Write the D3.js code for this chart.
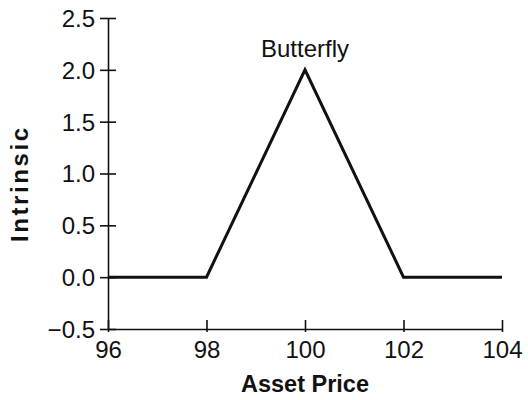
<!DOCTYPE html>
<html><head><meta charset="utf-8">
<script src="https://cdn.jsdelivr.net/npm/d3@7"></script>
<style>body{margin:0;background:#fff}svg{display:block}text{font-family:"Liberation Sans",Arial,sans-serif;fill:#111}</style>
</head><body>
<script>
const assetPrices = [96, 98, 100, 102, 104];
const intrinsicValues = [0, 0, 2, 0, 0];
const xTicks = [96, 98, 100, 102, 104];
const yTicks = [-0.5, 0.0, 0.5, 1.0, 1.5, 2.0, 2.5];
const seriesLabel = "Butterfly";
const xTitle = "Asset Price";
const yTitle = "Intrinsic";

const W = 528, H = 400;
const svg = d3.select("body").append("svg").attr("width", W).attr("height", H);
const x = d3.scaleLinear().domain([96, 104]).range([108, 502]);
const y = d3.scaleLinear().domain([-0.5, 2.5]).range([329, 18]);

// y axis
const yAxis = svg.append("g").attr("transform", `translate(${x(96)},0)`)
  .call(d3.axisLeft(y).tickValues(yTicks).tickFormat(d => d < 0 ? "\u2212" + Math.abs(d).toFixed(1) : d.toFixed(1)).tickSize(8).tickPadding(5).tickSizeOuter(0));
yAxis.select(".domain").attr("stroke", "#111").attr("stroke-width", 1.6);
yAxis.selectAll(".tick line").attr("x2", 8).attr("x1", -8).attr("stroke", "#111").attr("stroke-width", 1.6);
yAxis.selectAll(".tick text").attr("font-size", 24).attr("fill", "#111").attr("x", -13).attr("dy", "0.35em");

// x axis
const xAxis = svg.append("g").attr("transform", `translate(0,${y(-0.5)})`)
  .call(d3.axisBottom(x).tickValues(xTicks).tickFormat(d3.format("d")).tickSize(3).tickPadding(6).tickSizeOuter(0));
xAxis.select(".domain").attr("stroke", "#111").attr("stroke-width", 1.6);
xAxis.selectAll(".tick line").attr("y1", -9).attr("y2", 3).attr("stroke", "#111").attr("stroke-width", 1.6);
xAxis.selectAll(".tick text").attr("font-size", 24).attr("fill", "#111").attr("y", 29).attr("dy", null);

// line
const pts = assetPrices.map((a, i) => [a, intrinsicValues[i]]);
svg.append("path").datum(pts)
  .attr("d", d3.line().x(d => x(d[0])).y(d => y(d[1])))
  .attr("fill", "none").attr("stroke", "#111").attr("stroke-width", 3).attr("stroke-linejoin", "miter");

// label
svg.append("text").attr("x", x(100)).attr("y", 57).attr("text-anchor", "middle")
  .attr("font-size", 24).text(seriesLabel);

// titles
svg.append("text").attr("x", x(100)).attr("y", 392).attr("text-anchor", "middle")
  .attr("font-size", 23.5).attr("font-weight", "bold").text(xTitle);
svg.append("text").attr("transform", `translate(28,185) rotate(-90)`).attr("text-anchor", "middle")
  .attr("font-size", 24).attr("font-weight", "bold").attr("textLength", 114).attr("lengthAdjust", "spacing").text(yTitle);
</script>
</body></html>
